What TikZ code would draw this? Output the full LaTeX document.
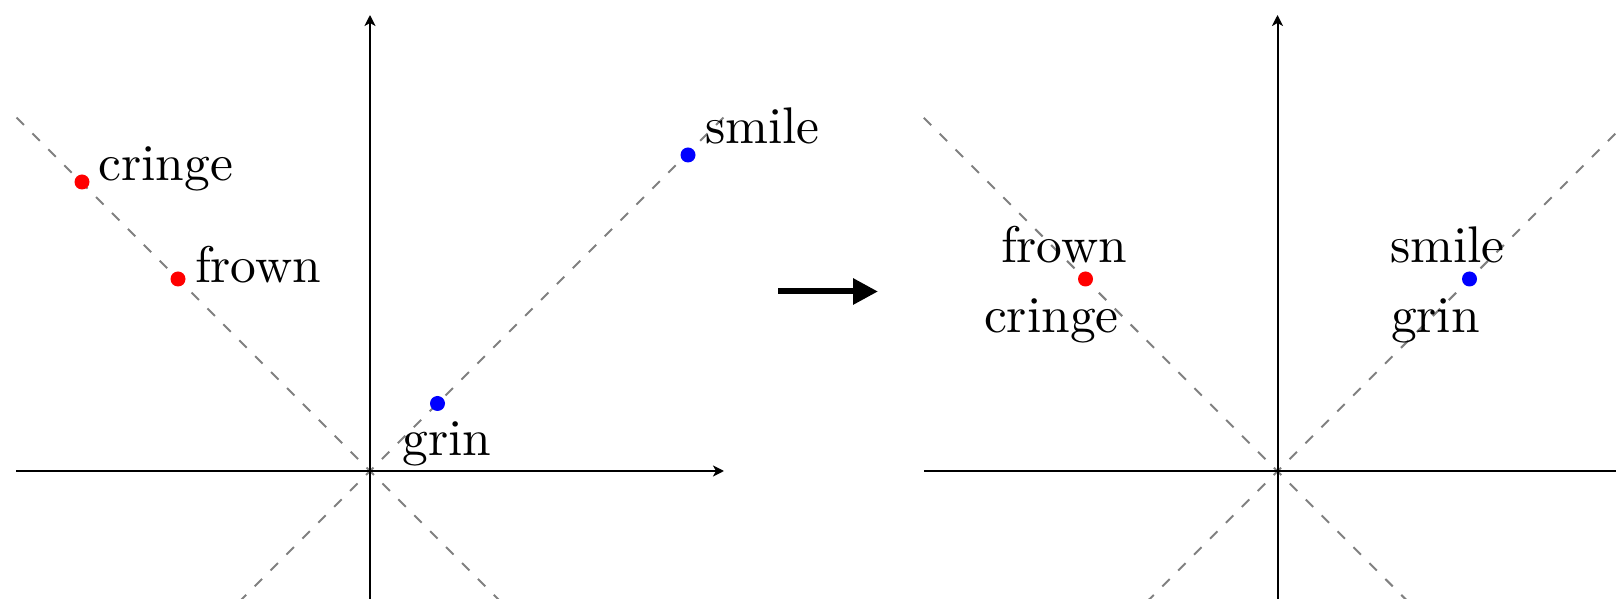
\documentclass[tikz,border=0pt]{standalone}
\usetikzlibrary{arrows.meta}
\begin{document}
\begin{tikzpicture}[x=0.2pt,y=-0.2pt,
  font=\fontsize{10.3pt}{12pt}\selectfont,
  dot/.style={circle,inner sep=0pt,minimum size=3pt,draw=none},
  lbl/.style={anchor=base west,inner sep=0pt,outer sep=0pt},
  guide/.style={gray,line width=0.4pt,dash pattern=on 2.1pt off 2.4pt},
  axisline/.style={black,line width=0.4pt,-{Stealth[length=2.2pt,width=2.2pt,inset=0.6pt]}},
  bigarrow/.style={black,line width=1.2pt,-{Triangle[length=5pt,width=5pt]}}]
\useasboundingbox (0,0) rectangle (1616,599);
\clip (0,0) rectangle (1616,599);
% ---------- left panel ----------
\coordinate (O1) at (370,471);
\coordinate (L1xl) at (16,471);
\coordinate (L1xr) at (724,471);
\coordinate (L1yt) at (370,15);
\coordinate (L1yb) at (370,825);
\coordinate (L1tl) at (16,117);
\coordinate (L1br) at (724,825);
\coordinate (L1tr) at (724,117);
\coordinate (L1bl) at (16,825);
\draw[guide] (L1br) -- (L1tl);
\draw[guide] (L1bl) -- (L1tr);
\draw[axisline] (L1xl) -- (L1xr);
\draw[axisline] (L1yb) -- (L1yt);
\node[dot,fill=red] (cringeL) at (82,182) {};
\node[dot,fill=red] (frownL) at (178,279) {};
\node[dot,fill=blue] (grinL) at (437.5,403.5) {};
\node[dot,fill=blue] (smileL) at (688,155) {};
\node[lbl] (labcringeL) at (98.5,181) {cringe};
\node[lbl] (labfrownL) at (195,283) {frown};
\node[lbl] (labsmileL) at (705,144) {smile};
\node[lbl] (labgrinL) at (402.5,456) {grin};
% ---------- middle arrow ----------
\coordinate (A1) at (778,291.5);
\coordinate (A2) at (878,291.5);
\draw[bigarrow] (A1) -- (A2);
% ---------- right panel ----------
\coordinate (O2) at (1277.5,471);
\coordinate (L2xl) at (924,471);
\coordinate (L2xr) at (1631.5,471);
\coordinate (L2yt) at (1277.5,15);
\coordinate (L2yb) at (1277.5,825);
\coordinate (L2tl) at (923.5,117.5);
\coordinate (L2br) at (1631.5,825);
\coordinate (L2tr) at (1631.5,117.5);
\coordinate (L2bl) at (923.5,825);
\draw[guide] (L2br) -- (L2tl);
\draw[guide] (L2bl) -- (L2tr);
\draw[axisline] (L2xl) -- (L2xr);
\draw[axisline] (L2yb) -- (L2yt);
\node[dot,fill=red] (frownR) at (1085.5,279) {};
\node[dot,fill=blue] (smileR) at (1469.5,279) {};
\node[lbl] (labfrownR) at (1001,263) {frown};
\node[lbl] (labcringeR) at (984,333) {cringe};
\node[lbl] (labsmileR) at (1390,263) {smile};
\node[lbl] (labgrinR) at (1391,333) {grin};
\end{tikzpicture}
\end{document}
